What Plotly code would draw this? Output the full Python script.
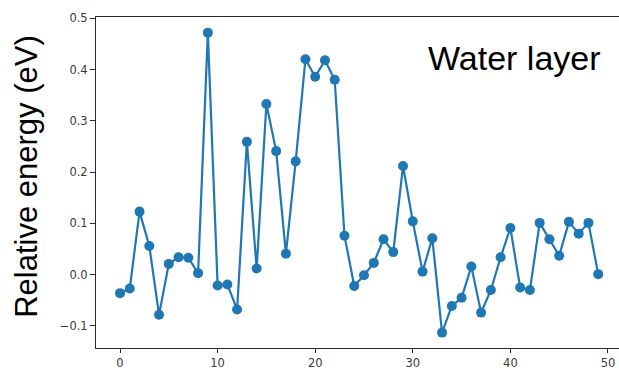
import plotly.graph_objects as go

steps = list(range(50))
energies = [
    -0.036, -0.027, 0.123, 0.056, -0.078, 0.021, 0.034, 0.033, 0.003, 0.472,
    -0.021, -0.019, -0.068, 0.259, 0.012, 0.333, 0.241, 0.041, 0.221, 0.420,
    0.386, 0.418, 0.380, 0.076, -0.022, -0.001, 0.023, 0.069, 0.044, 0.212,
    0.104, 0.006, 0.071, -0.113, -0.061, -0.045, 0.016, -0.074, -0.030, 0.034,
    0.091, -0.025, -0.030, 0.101, 0.069, 0.037, 0.103, 0.080, 0.101, 0.001,
]
x_ticks = [0, 10, 20, 30, 40, 50]
y_ticks = [-0.1, 0.0, 0.1, 0.2, 0.3, 0.4, 0.5]
y_tick_labels = ["\u22120.1", "0.0", "0.1", "0.2", "0.3", "0.4", "0.5"]
y_title = "Relative energy (eV)"
panel_label = "Water layer"

C0 = "#1f77b4"
fig = go.Figure()
fig.add_trace(go.Scatter(
    x=steps, y=energies, mode="lines+markers",
    line=dict(color=C0, width=2.2),
    marker=dict(color=C0, size=10),
    showlegend=False, hoverinfo="skip",
))

tick_font = dict(family="DejaVu Sans", size=11.5, color="#3a3a3a")
fig.update_layout(
    width=619, height=374,
    margin=dict(l=96, r=0, t=17, b=26),
    paper_bgcolor="white", plot_bgcolor="white",
    xaxis=dict(
        range=[-2.46, 51.13], tickvals=x_ticks, ticktext=[str(v) for v in x_ticks],
        showgrid=False, zeroline=False, showline=True, linecolor="#2a2a2a", linewidth=1,
        mirror=True, ticks="outside", ticklen=4, tickcolor="#2a2a2a", tickwidth=1,
        tickfont=tick_font, automargin=False,
    ),
    yaxis=dict(
        range=[-0.143, 0.5025], tickvals=y_ticks, ticktext=y_tick_labels,
        showgrid=False, zeroline=False, showline=True, linecolor="#2a2a2a", linewidth=1,
        ticks="outside", ticklen=5, tickcolor="#2a2a2a", tickwidth=1,
        tickfont=tick_font, automargin=False,
    ),
    annotations=[
        dict(text=panel_label, xref="paper", yref="paper", x=0.631, y=0.876,
             xanchor="left", yanchor="middle", showarrow=False,
             font=dict(family="Liberation Sans", size=34, color="black")),
        dict(text=y_title, xref="paper", yref="paper", x=-0.132, y=0.52,
             xanchor="center", yanchor="middle", textangle=-90, showarrow=False,
             font=dict(family="Liberation Sans", size=31, color="black")),
    ],
)
fig.write_html(
    "out.html",
    config={"displayModeBar": False},
    post_script="document.body.style.margin='0';document.body.style.overflow='hidden';",
)
